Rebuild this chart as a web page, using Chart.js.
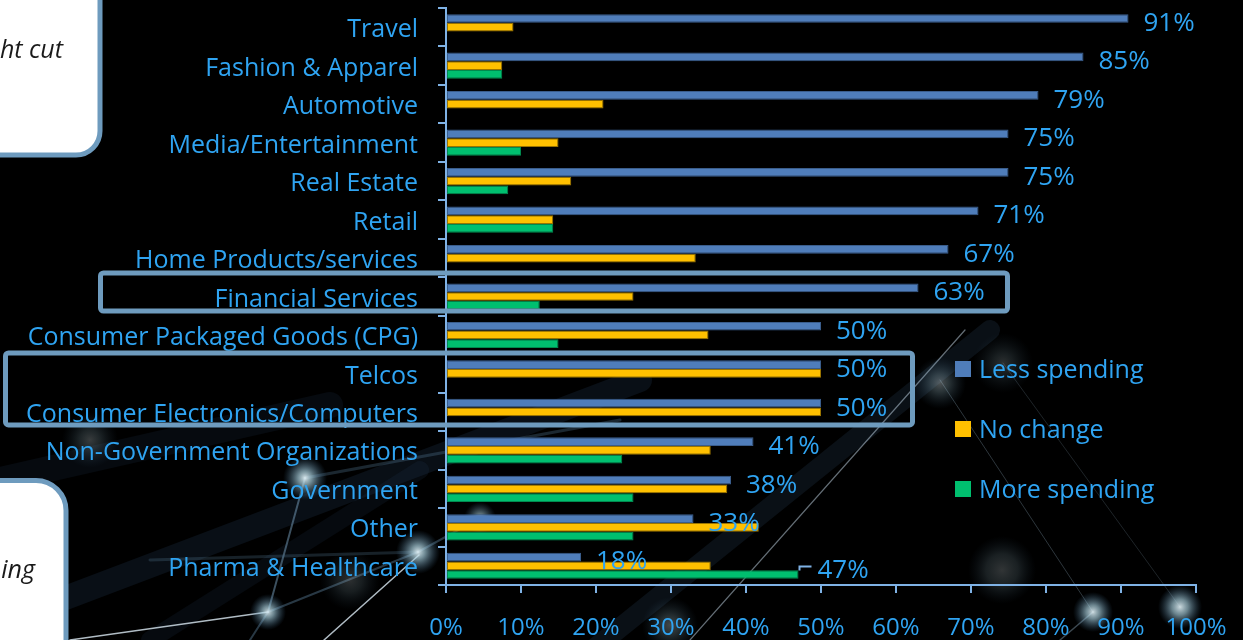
<!DOCTYPE html>
<html>
<head>
<meta charset="utf-8">
<title>Spending by industry</title>
<script src="https://cdn.jsdelivr.net/npm/chart.js@4/dist/chart.umd.min.js"></script>
<style>
  html, body { margin: 0; padding: 0; background: #000; overflow: hidden; }
  canvas { display: block; }
</style>
</head>
<body>
<canvas id="chart" width="1243" height="640"></canvas>
<script>
// Datos
const categories = [
    'Travel', 'Fashion & Apparel', 'Automotive', 'Media/Entertainment', 'Real Estate',
    'Retail', 'Home Products/services', 'Financial Services', 'Consumer Packaged Goods (CPG)',
    'Telcos', 'Consumer Electronics/Computers', 'Non-Government Organizations',
    'Government', 'Other', 'Pharma & Healthcare'
];
const lessSpending = [91, 85, 79, 75, 75, 71, 67, 63, 50, 50, 50, 41, 38, 33, 18];
const noChange     = [9, 7.5, 21, 15, 16.7, 14.3, 33.3, 25, 35, 50, 50, 35.3, 37.5, 41.7, 35.3];
const moreSpending = [null, 7.5, null, 10, 8.3, 14.3, null, 12.5, 15, null, null, 23.5, 25, 25, 47];
const seriesNames  = ['Less spending', 'No change', 'More spending'];
const xTicks       = [0, 10, 20, 30, 40, 50, 60, 70, 80, 90, 100];

// Estilos
const FONT = '"Open Sans", "Noto Sans", sans-serif';
const textColor = '#2FA4F2';
const axisColor = '#7FB2E5';
const boxColor = '#6E9BBE';
const fills = ['#4F7DBA', '#FFC000', '#00BF6F'];
const edges = ['#3A5D8C', '#9A7400', '#008A4F'];

// Fondo oscuro con red de nodos
const backgroundPlugin = {
    id: 'networkBackground',
    beforeDraw(chart) {
        const ctx = chart.ctx;
        ctx.save();
        ctx.fillStyle = '#000';
        ctx.fillRect(0, 0, chart.width, chart.height);

        // bandas difusas
        ctx.lineCap = 'round';
        const bands = [
            [60, 600, 640, 380, 24, 'rgba(40,70,100,0.22)'],
            [0, 480, 330, 405, 26, 'rgba(40,70,100,0.15)'],
            [580, 660, 990, 330, 20, 'rgba(50,80,110,0.2)'],
            [150, 640, 420, 470, 18, 'rgba(40,70,100,0.15)']
        ];
        bands.forEach(b => {
            ctx.strokeStyle = b[5];
            ctx.lineWidth = b[4];
            ctx.beginPath(); ctx.moveTo(b[0], b[1]); ctx.lineTo(b[2], b[3]); ctx.stroke();
        });

        // enlaces finos
        const links = [
            [70, 640, 268, 612, 'rgba(220,235,245,0.8)', 1.5],
            [268, 612, 305, 478, 'rgba(120,160,190,0.5)', 2],
            [324, 640, 419, 555, 'rgba(220,235,245,0.8)', 1.5],
            [268, 612, 418, 552, 'rgba(100,140,170,0.4)', 2],
            [418, 552, 480, 518, 'rgba(100,140,170,0.4)', 2],
            [305, 478, 620, 420, 'rgba(90,130,160,0.3)', 3],
            [150, 560, 418, 552, 'rgba(90,130,160,0.25)', 3],
            [690, 640, 965, 330, 'rgba(200,220,235,0.5)', 1.2],
            [940, 380, 1093, 612, 'rgba(150,180,200,0.3)', 1],
            [1003, 363, 1180, 607, 'rgba(150,180,200,0.2)', 1],
            [1093, 612, 1060, 640, 'rgba(150,180,200,0.4)', 1.5],
            [250, 640, 268, 612, 'rgba(100,140,170,0.4)', 2]
        ];
        links.forEach(l => {
            ctx.strokeStyle = l[4];
            ctx.lineWidth = l[5];
            ctx.beginPath(); ctx.moveTo(l[0], l[1]); ctx.lineTo(l[2], l[3]); ctx.stroke();
        });

        // nodos con brillo
        const nodes = [
            [305, 478, 7, 22, 0.95], [418, 552, 7, 22, 0.95], [268, 612, 6, 18, 0.9],
            [480, 518, 5, 16, 0.7], [1093, 612, 7, 20, 0.9], [1180, 607, 8, 22, 0.9],
            [940, 383, 9, 26, 0.35], [1003, 363, 10, 30, 0.2], [90, 440, 10, 28, 0.25],
            [1002, 570, 16, 34, 0.22], [670, 625, 10, 28, 0.3], [350, 580, 12, 30, 0.2]
        ];
        nodes.forEach(n => {
            const g = ctx.createRadialGradient(n[0], n[1], 0, n[0], n[1], n[3]);
            g.addColorStop(0, `rgba(225,240,245,${n[4]})`);
            g.addColorStop(n[2] / n[3], `rgba(170,210,225,${n[4] * 0.7})`);
            g.addColorStop(1, 'rgba(60,110,150,0)');
            ctx.fillStyle = g;
            ctx.beginPath(); ctx.arc(n[0], n[1], n[3], 0, Math.PI * 2); ctx.fill();
        });
        ctx.restore();
    }
};

// Etiquetas de valor, recuadros, leyenda y notas laterales
function roundRect(ctx, x, y, w, h, r) {
    ctx.beginPath();
    ctx.moveTo(x + r, y);
    ctx.arcTo(x + w, y, x + w, y + h, r);
    ctx.arcTo(x + w, y + h, x, y + h, r);
    ctx.arcTo(x, y + h, x, y, r);
    ctx.arcTo(x, y, x + w, y, r);
    ctx.closePath();
}

const overlayPlugin = {
    id: 'overlay',
    afterDatasetsDraw(chart) {
        const ctx = chart.ctx;
        const yScale = chart.scales.y;
        ctx.save();

        // valores de "Less spending"
        ctx.font = `26px ${FONT}`;
        ctx.fillStyle = textColor;
        ctx.textAlign = 'left';
        ctx.textBaseline = 'middle';
        chart.getDatasetMeta(0).data.forEach((bar, i) => {
            ctx.fillText(lessSpending[i] + '%', bar.x + 15, bar.y + 5);
        });

        // valor destacado de "More spending" con línea guía
        const last = categories.length - 1;
        const g = chart.getDatasetMeta(2).data[last];
        ctx.strokeStyle = axisColor;
        ctx.lineWidth = 2;
        ctx.beginPath();
        ctx.moveTo(g.x + 1, g.y - 4);
        ctx.lineTo(g.x + 1, g.y - 8);
        ctx.lineTo(g.x + 13, g.y - 8);
        ctx.stroke();
        ctx.fillText(moreSpending[last] + '%', g.x + 19, g.y - 4);

        // recuadros de resaltado
        ctx.strokeStyle = boxColor;
        ctx.lineWidth = 5;
        const fin = categories.indexOf('Financial Services');
        let top = yScale.getPixelForValue(fin) - 23.5;
        let bottom = yScale.getPixelForValue(fin) + 14.5;
        roundRect(ctx, 100.5, top, 907, bottom - top, 3);
        ctx.stroke();
        const tel = categories.indexOf('Telcos');
        const ce = categories.indexOf('Consumer Electronics/Computers');
        top = yScale.getPixelForValue(tel) - 20.5;
        bottom = yScale.getPixelForValue(ce) + 13;
        roundRect(ctx, 5.5, top, 907, bottom - top, 3);
        ctx.stroke();

        // leyenda
        ctx.font = `25px ${FONT}`;
        seriesNames.forEach((name, i) => {
            const cy = 369 + i * 60;
            ctx.fillStyle = fills[i];
            ctx.fillRect(955, cy - 8, 16, 16);
            ctx.fillStyle = textColor;
            ctx.fillText(name, 979, cy + 2);
        });

        // notas laterales
        ctx.lineWidth = 5;
        ctx.strokeStyle = boxColor;
        ctx.fillStyle = '#fff';
        roundRect(ctx, -40, -40, 140, 195, 24);
        ctx.fill(); ctx.stroke();
        roundRect(ctx, -40, 480.5, 106, 220, 30);
        ctx.fill(); ctx.stroke();
        ctx.fillStyle = '#1a1a1a';
        ctx.font = `italic 25px ${FONT}`;
        ctx.textAlign = 'right';
        ctx.textBaseline = 'alphabetic';
        ctx.fillText('ht cut', 63, 58);
        ctx.fillText('ing', 35, 578);

        ctx.restore();
    }
};

const datasets = [lessSpending, noChange, moreSpending].map((values, i) => ({
    label: seriesNames[i],
    data: values,
    backgroundColor: fills[i],
    borderColor: edges[i],
    borderWidth: 1,
    borderSkipped: false,
    categoryPercentage: 0.68,
    barPercentage: 1
}));

new Chart(document.getElementById('chart').getContext('2d'), {
    type: 'bar',
    data: { labels: categories, datasets },
    options: {
        indexAxis: 'y',
        responsive: false,
        animation: false,
        layout: { padding: { top: 8, right: 47, left: 0, bottom: 0 } },
        plugins: { legend: { display: false }, tooltip: { enabled: false } },
        scales: {
            x: {
                min: 0,
                max: 100,
                afterBuildTicks(scale) { scale.ticks = xTicks.map(v => ({ value: v })); },
                ticks: {
                    color: textColor,
                    font: { family: FONT, size: 24 },
                    padding: 21,
                    maxRotation: 0,
                    callback: v => v + '%'
                },
                grid: { drawOnChartArea: false, drawTicks: true, tickLength: 8, color: axisColor, lineWidth: 2 },
                border: { color: axisColor, width: 2 },
                afterFit(scale) {
                    scale.height = 55;
                    scale.paddingLeft = 0;
                    scale.paddingRight = 0;
                }
            },
            y: {
                ticks: {
                    color: textColor,
                    font: { family: FONT, size: 25 },
                    padding: 20,
                    labelOffset: 3,
                    autoSkip: false
                },
                grid: { offset: true, drawOnChartArea: false, drawTicks: true, tickLength: 8, color: axisColor, lineWidth: 2 },
                border: { color: axisColor, width: 2 },
                afterFit(scale) {
                    scale.width = 446;
                    scale.paddingTop = 0;
                    scale.paddingBottom = 0;
                }
            }
        }
    },
    plugins: [backgroundPlugin, overlayPlugin]
});
</script>
</body>
</html>
